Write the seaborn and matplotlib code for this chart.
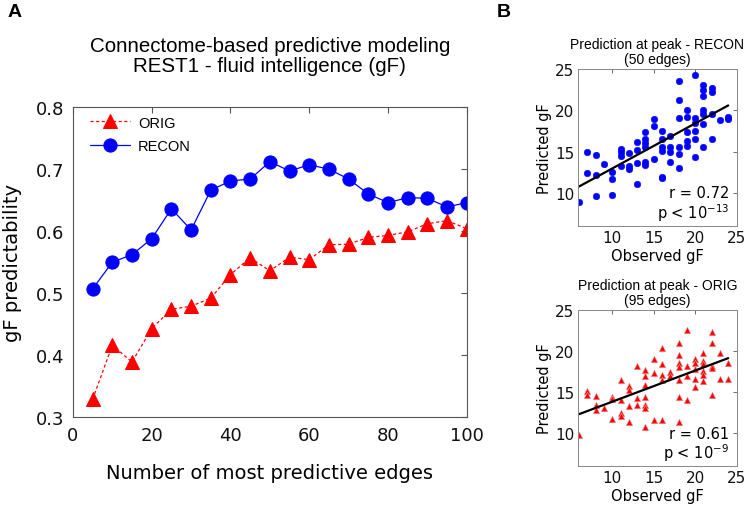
import numpy as np
import pandas as pd
import matplotlib
matplotlib.use("Agg")
import matplotlib.pyplot as plt
import seaborn as sns

# ---- data ----
edges = [5, 10, 15, 20, 25, 30, 35, 40, 45, 50, 55, 60, 65, 70, 75, 80, 85, 90, 95, 100]
recon_pred = [0.507, 0.550, 0.562, 0.588, 0.636, 0.602, 0.666, 0.681, 0.684, 0.712,
              0.697, 0.707, 0.700, 0.684, 0.660, 0.646, 0.654, 0.653, 0.639, 0.646]
orig_pred = [0.329, 0.416, 0.389, 0.443, 0.474, 0.479, 0.492, 0.530, 0.557, 0.536,
             0.558, 0.554, 0.578, 0.579, 0.590, 0.593, 0.599, 0.612, 0.617, 0.604]

recon_obs = [6, 7, 7, 8, 8, 8, 9, 10, 10, 10, 11, 11, 11, 11, 12, 12, 12, 13, 13, 13, 13,
             14, 14, 14, 14, 14, 14, 15, 15, 15, 16, 16, 16, 16, 16, 16, 17, 17, 17, 17,
             18, 18, 18, 18, 18, 18, 19, 19, 19, 19, 19, 20, 20, 20, 20, 20, 20,
             21, 21, 21, 21, 21, 21, 21, 22, 22, 22, 22, 23, 24, 24]
recon_gf = [8.9, 14.9, 12.35, 14.6, 12.2, 9.6, 13.5, 12.5, 11.7, 9.7, 15.3, 14.9, 14.5, 13.2,
            14.8, 13.2, 12.9, 16.2, 15.2, 13.6, 11.1, 17.4, 16.5, 16.0, 15.5, 13.7, 13.4,
            18.9, 18.1, 14.1, 17.5, 16.5, 15.6, 15.1, 11.9, 11.8, 16.9, 15.5, 14.9, 13.7,
            23.5, 21.2, 19.1, 15.6, 14.7, 13.0, 20.0, 19.2, 17.4, 16.3, 15.7,
            24.2, 19.1, 18.4, 17.5, 16.5, 14.3, 23.1, 22.5, 21.7, 20.0, 19.6, 18.3, 15.5,
            22.7, 22.2, 19.6, 16.5, 18.8, 19.2, 18.9]

orig_obs = [6, 7, 7, 8, 8, 8, 9, 10, 10, 10, 11, 11, 11, 11, 12, 12, 12, 12, 13, 13, 13,
            14, 14, 14, 14, 14, 14, 14, 15, 15, 15, 16, 16, 16, 16, 16, 17, 17,
            18, 18, 18, 18, 18, 18, 18, 19, 19, 19, 19, 20, 20, 20, 20, 20,
            21, 21, 21, 21, 21, 21, 22, 22, 22, 22, 22, 23, 23, 24, 24]
orig_gf = [9.8, 15.15, 14.65, 14.5, 13.4, 12.8, 13.1, 14.4, 14.1, 11.7, 16.5, 14.0, 12.5, 12.1,
           15.8, 15.2, 13.3, 11.4, 18.2, 14.3, 13.4, 17.7, 16.9, 15.9, 14.4, 13.4, 13.1, 10.7,
           19.0, 17.3, 11.6, 20.4, 18.4, 17.1, 16.5, 11.6, 17.4, 16.9,
           21.0, 19.5, 18.5, 18.1, 16.5, 14.4, 11.3, 22.5, 18.2, 17.0, 14.0,
           19.0, 18.6, 17.8, 16.6, 15.6, 19.7, 18.8, 18.4, 17.6, 17.1, 16.3,
           22.3, 21.0, 18.2, 17.9, 14.7, 19.7, 16.6, 18.6, 16.6]

sns.set_style("white")
plt.rcParams["font.family"] = ["DejaVu Sans"]
plt.rcParams["text.color"] = "black"
plt.rcParams["axes.labelcolor"] = "black"
TITLE_FONT = ["Liberation Sans", "DejaVu Sans"]
SPINE = "#555555"

fig = plt.figure(figsize=(7.5, 5.1), dpi=100)

# ---- panel A ----
ax = fig.add_axes([0.0973, 0.180, 0.525, 0.608])
sns.lineplot(x=edges, y=orig_pred, ax=ax, color="red", linewidth=0.9,
             linestyle=(0, (2.5, 2)), marker="^", markersize=10,
             markeredgecolor="red", label="ORIG")
sns.lineplot(x=edges, y=recon_pred, ax=ax, color="blue", linewidth=0.9,
             marker="o", markersize=9.5, markeredgecolor="blue", label="RECON")
ax.set_xlim(0, 100)
ax.set_ylim(0.3, 0.8)
ax.set_xticks([0, 20, 40, 60, 80, 100])
ax.set_yticks([0.3, 0.4, 0.5, 0.6, 0.7, 0.8])
ax.tick_params(direction="in", length=4, width=0.8, top=True, right=True,
               labelsize=13, colors=SPINE, labelcolor="#111111", pad=6)
for s in ax.spines.values():
    s.set_color(SPINE)
    s.set_linewidth(0.8)
ax.set_xlabel("Number of most predictive edges", fontsize=14, labelpad=14)
ax.set_ylabel("gF predictability", fontsize=14, labelpad=10)
ax.set_title("Connectome-based predictive modeling\nREST1 - fluid intelligence (gF)",
             fontsize=14.8, family=TITLE_FONT, pad=26, linespacing=1.1)
leg = ax.legend(loc="upper left", bbox_to_anchor=(0.032, 0.987), frameon=False,
                handlelength=2.75, borderaxespad=0, labelspacing=0.65, borderpad=0.3,
                handletextpad=0.55, prop={"family": TITLE_FONT, "size": 10.5})


# ---- panel B ----
def scatter_panel(rect, obs, gf, marker, color, title, r_txt, p_txt, edge):
    a = fig.add_axes(rect)
    sns.regplot(x=obs, y=gf, ax=a, ci=None, marker=marker,
                scatter_kws={"s": 22, "color": color, "edgecolors": edge,
                             "linewidths": 0.4, "alpha": 1},
                line_kws={"color": "black", "linewidth": 1.6})
    a.set_xlim(5.9, 25)
    a.set_ylim(6, 25)
    a.set_xticks([10, 15, 20, 25])
    a.set_yticks([10, 15, 20, 25])
    a.tick_params(direction="in", length=3, width=0.6, top=True, right=True,
                  labelsize=11, colors=SPINE, labelcolor="#111111", pad=3)
    for s in a.spines.values():
        s.set_color("#888888")
        s.set_linewidth(0.7)
    a.set_xlabel("Observed gF", fontsize=10.5, labelpad=2)
    a.set_ylabel("Predicted gF", fontsize=10.5, labelpad=2)
    a.set_title(title, fontsize=10, family=TITLE_FONT, pad=4, linespacing=1.1)
    a.text(0.955, 0.21, r_txt, transform=a.transAxes, ha="right", va="center", fontsize=10.5)
    a.text(0.955, 0.09, p_txt, transform=a.transAxes, ha="right", va="center", fontsize=10.5)
    return a


scatter_panel([0.771, 0.555, 0.211, 0.308], recon_obs, recon_gf, "o", "blue",
              "Prediction at peak - RECON\n(50 edges)", "r = 0.72", r"p < 10$^{-13}$", "blue")
scatter_panel([0.771, 0.0843, 0.211, 0.306], orig_obs, orig_gf, "^", "red",
              "Prediction at peak - ORIG\n(95 edges)", "r = 0.61", r"p < 10$^{-9}$", "#e0a0a0")

fig.text(0.019, 0.976, "A", fontsize=14, fontweight="bold", family=TITLE_FONT, ha="center", va="center")
fig.text(0.672, 0.976, "B", fontsize=14, fontweight="bold", family=TITLE_FONT, ha="center", va="center")

fig.savefig("out.png", dpi=100)
